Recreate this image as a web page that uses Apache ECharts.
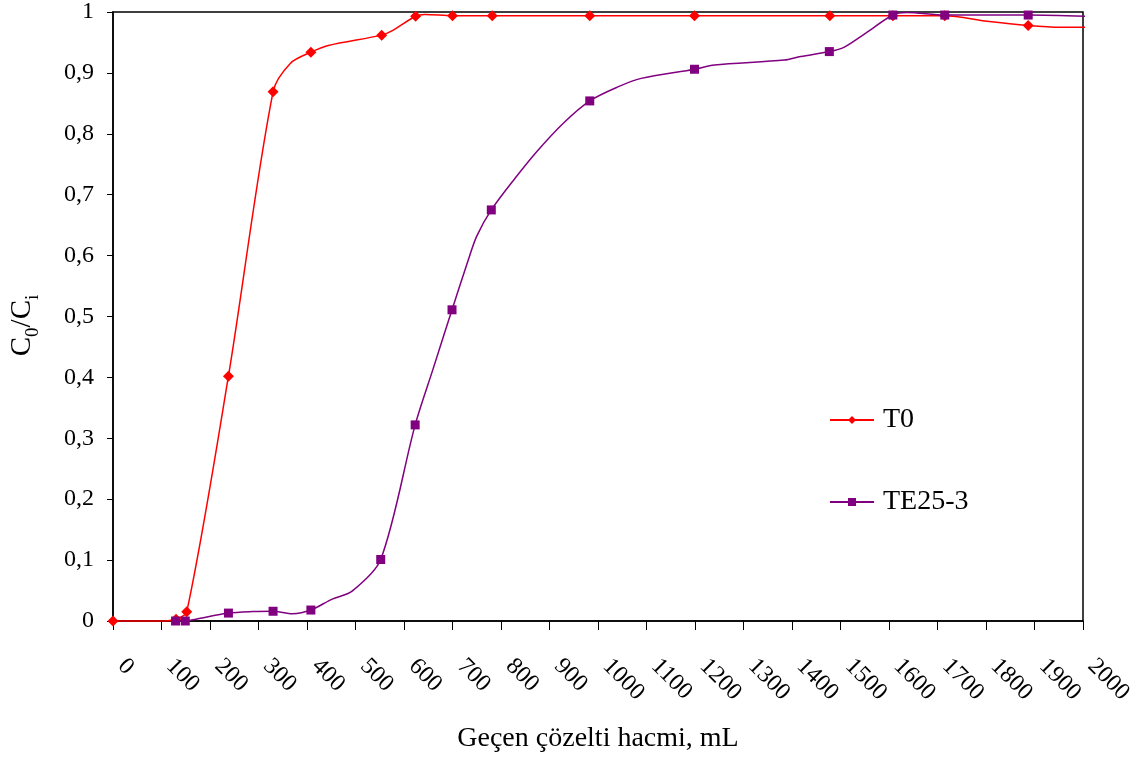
<!DOCTYPE html>
<html>
<head>
<meta charset="utf-8">
<script src="https://cdn.jsdelivr.net/npm/echarts@6/dist/echarts.min.js"></script>
<style>
  html, body { margin: 0; padding: 0; background: #fff; }
  #chart { width: 1145px; height: 758px; }
</style>
</head>
<body>
<div id="chart"></div>
<script>
// Breakthrough curves: passed solution volume (mL) vs C0/Ci
const seriesNames = ['T0', 'TE25-3'];

// Measured points (drawn with markers)
const t0Volume = [0, 130, 152, 238, 330, 408, 554, 624, 700, 782, 983, 1199, 1478, 1608, 1715, 1887];
const t0Ratio  = [0, 0.003, 0.015, 0.402, 0.869, 0.934, 0.962, 0.993, 0.994, 0.994, 0.994, 0.994, 0.994, 0.994, 0.994, 0.978];

const teVolume = [129, 149, 238, 330, 408, 552, 623, 699, 780, 983, 1199, 1477, 1608, 1715, 1887];
const teRatio  = [0, 0, 0.013, 0.016, 0.018, 0.101, 0.322, 0.511, 0.675, 0.854, 0.906, 0.935, 0.995, 0.995, 0.995];

// Points along the fitted curves (no markers)
const t0CurveVolume = [100, 366, 444, 575, 643, 1802, 1953, 2010];
const t0CurveRatio  = [0, 0.916, 0.945, 0.969, 0.996, 0.985, 0.975, 0.975];

const teCurveVolume = [171, 288, 370, 452, 493, 660, 733, 750, 829, 874, 928, 1041, 1089, 1240, 1384, 1418, 1507, 1555, 1637, 2010];
const teCurveRatio  = [0.003, 0.0155, 0.012, 0.036, 0.049, 0.414, 0.594, 0.632, 0.727, 0.771, 0.817, 0.877, 0.891, 0.913, 0.921, 0.927, 0.942, 0.967, 0.999, 0.993];

const FONT = 'Liberation Serif';

function buildData(vol, ratio, cVol, cRatio) {
  const pts = [];
  vol.forEach((v, i) => pts.push({ value: [v, ratio[i]] }));
  cVol.forEach((v, i) => pts.push({ value: [v, cRatio[i]], symbol: 'none' }));
  pts.sort((a, b) => a.value[0] - b.value[0]);
  return pts;
}

const chart = echarts.init(document.getElementById('chart'), null, { renderer: 'canvas' });

chart.setOption({
  animation: false,
  backgroundColor: '#ffffff',
  grid: {
    left: 110, right: 62, top: 11, bottom: 135,
    show: true, borderColor: '#000', borderWidth: 1.5, backgroundColor: 'transparent'
  },
  legend: {
    orient: 'vertical',
    left: 824, top: 401,
    itemGap: 54,
    itemWidth: 44, itemHeight: 10,
    textStyle: { fontFamily: FONT, fontSize: 28, color: '#000', padding: [0, 0, 0, 4] },
    data: seriesNames
  },
  xAxis: {
    type: 'value',
    min: 0, max: 2000, interval: 100,
    name: 'Geçen çözelti hacmi, mL',
    nameLocation: 'middle',
    nameGap: 104,
    nameTextStyle: { fontFamily: FONT, fontSize: 28, color: '#000' },
    axisLine: { show: true, onZero: false, lineStyle: { color: '#000', width: 1.5 } },
    axisTick: { show: true, length: 9, lineStyle: { color: '#000', width: 1 } },
    splitLine: { show: false },
    axisLabel: {
      rotate: -45,
      margin: 33,
      padding: [0, 0, 0, 12],
      fontFamily: FONT, fontSize: 24, color: '#000',
      showMinLabel: true, showMaxLabel: true,
      formatter: v => String(v)
    }
  },
  yAxis: {
    type: 'value',
    min: 0, max: 1, interval: 0.1,
    name: '{a|C}{s|0}{a|/C}{s|i}',
    nameLocation: 'middle',
    nameGap: 76,
    nameTextStyle: {
      padding: [0, 18, 0, 0],
      rich: {
        a: { fontFamily: FONT, fontSize: 29, color: '#000', verticalAlign: 'bottom', lineHeight: 34 },
        s: { fontFamily: FONT, fontSize: 19, color: '#000', verticalAlign: 'bottom', lineHeight: 34, padding: [0, 0, -6, 0] }
      }
    },
    axisLine: { show: true, lineStyle: { color: '#000', width: 1.5 } },
    axisTick: { show: true, length: 6, lineStyle: { color: '#000', width: 1 } },
    splitLine: { show: false },
    axisLabel: {
      margin: 19,
      fontFamily: FONT, fontSize: 24, color: '#000',
      formatter: v => String(Math.round(v * 10) / 10).replace('.', ',')
    }
  },
  series: [
    {
      name: seriesNames[0],
      type: 'line',
      smooth: 0.3,
      clip: false,
      symbol: 'diamond',
      symbolSize: 11,
      showAllSymbol: true,
      itemStyle: { color: '#ff0000' },
      lineStyle: { color: '#ff0000', width: 1.5 },
      data: buildData(t0Volume, t0Ratio, t0CurveVolume, t0CurveRatio),
      z: 2
    },
    {
      name: seriesNames[1],
      type: 'line',
      smooth: 0.3,
      clip: false,
      symbol: 'rect',
      symbolSize: 9,
      showAllSymbol: true,
      itemStyle: { color: '#800080' },
      lineStyle: { color: '#800080', width: 1.5 },
      data: buildData(teVolume, teRatio, teCurveVolume, teCurveRatio),
      z: 3
    }
  ]
});
</script>
</body>
</html>
